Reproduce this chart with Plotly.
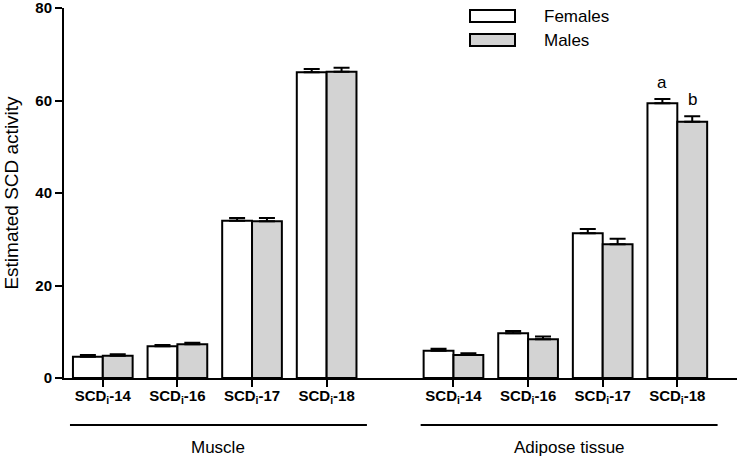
import plotly.graph_objects as go

categories = ["SCD<sub>i</sub>-14", "SCD<sub>i</sub>-16", "SCD<sub>i</sub>-17", "SCD<sub>i</sub>-18"]
tissues = ["Muscle", "Adipose tissue"]

females_muscle = [4.6, 6.85, 34.0, 66.1]
females_muscle_err = [0.35, 0.3, 0.6, 0.7]
males_muscle = [4.8, 7.3, 33.9, 66.2]
males_muscle_err = [0.35, 0.3, 0.7, 0.9]

females_adipose = [5.9, 9.7, 31.3, 59.4]
females_adipose_err = [0.4, 0.45, 0.9, 0.9]
males_adipose = [5.0, 8.4, 28.9, 55.4]
males_adipose_err = [0.35, 0.6, 1.2, 1.2]

letters = ["a", "b"]

pos_muscle = [0, 1, 2, 3]
pos_adipose = [4.7, 5.7, 6.7, 7.7]
positions = pos_muscle + pos_adipose
females = females_muscle + females_adipose
females_err = females_muscle_err + females_adipose_err
males = males_muscle + males_adipose
males_err = males_muscle_err + males_adipose_err

FONT = "Liberation Sans, Arial, sans-serif"

fig = go.Figure()
fig.add_trace(go.Bar(
    x=positions, y=females, name="Females",
    marker=dict(color="white", line=dict(color="black", width=2)),
    error_y=dict(type="data", array=females_err, arrayminus=[0]*8, symmetric=False,
                 color="black", thickness=2, width=8),
    showlegend=False,
))
fig.add_trace(go.Bar(
    x=positions, y=males, name="Males",
    marker=dict(color="#d3d3d3", line=dict(color="black", width=2)),
    error_y=dict(type="data", array=males_err, arrayminus=[0]*8, symmetric=False,
                 color="black", thickness=2, width=8),
    showlegend=False,
))

W, H = 737, 458
L, R, T, B = 64, 0, 8, 80
pw, ph = W - L - R, H - T - B

def px(xp):
    return (xp - L) / pw

def py(yp):
    return (H - B - yp) / ph

shapes = []
annotations = []

# group lines and labels
for grp, name in ((pos_muscle, tissues[0]), (pos_adipose, tissues[1])):
    x0, x1 = grp[0] - 0.44, grp[-1] + 0.54
    shapes.append(dict(type="line", xref="x", yref="paper", x0=x0, x1=x1,
                       y0=py(425), y1=py(425), line=dict(color="black", width=2)))
    annotations.append(dict(xref="x", yref="paper", x=(x0 + x1) / 2, y=py(447),
                            text=name, showarrow=False, font=dict(size=17, family=FONT, color="black"),
                            xanchor="center", yanchor="middle"))

# significance letters on adipose SCD-18
annotations.append(dict(x=pos_adipose[3] - 0.2, y=females_adipose[3] + females_adipose_err[3],
                        text=letters[0], showarrow=False, yanchor="bottom", yshift=5,
                        font=dict(size=17, family=FONT, color="black")))
annotations.append(dict(x=pos_adipose[3] + 0.2, y=males_adipose[3] + males_adipose_err[3],
                        text=letters[1], showarrow=False, yanchor="bottom", yshift=5,
                        font=dict(size=17, family=FONT, color="black")))

# legend
for (y0p, y1p, fill, label) in ((10, 22, "white", "Females"), (34, 46, "#d3d3d3", "Males")):
    shapes.append(dict(type="rect", xref="paper", yref="paper", x0=px(470), x1=px(515),
                       y0=py(y1p), y1=py(y0p), fillcolor=fill, line=dict(color="black", width=2)))
    annotations.append(dict(xref="paper", yref="paper", x=px(542), y=py((y0p + y1p) / 2),
                            text=label, showarrow=False, xanchor="left", yanchor="middle",
                            font=dict(size=17, family=FONT, color="black")))

fig.update_layout(
    width=W, height=H,
    margin=dict(l=L, r=R, t=T, b=B, pad=0),
    paper_bgcolor="white", plot_bgcolor="white",
    barmode="group", bargap=0.2, bargroupgap=0,
    font=dict(family=FONT, color="black"),
    shapes=shapes, annotations=annotations,
    xaxis=dict(range=[-0.52, 8.5], tickvals=positions,
               ticktext=["<b>" + c + "</b>" for c in categories] * 2,
               showline=True, linecolor="black", linewidth=2,
               ticks="outside", ticklen=7, tickwidth=2, tickcolor="black",
               ticklabelstandoff=-4,
               showgrid=False, zeroline=False,
               tickfont=dict(size=15, family=FONT, color="black")),
    yaxis=dict(range=[0, 80], dtick=20, showline=True, linecolor="black", linewidth=2,
               ticks="outside", ticklen=7, tickwidth=2, tickcolor="black",
               ticklabelstandoff=0, ticklabeloverflow="allow",
               showgrid=False, zeroline=False,
               tickfont=dict(size=15, family=FONT, color="black", weight="bold"),
               title=dict(text="Estimated SCD activity", font=dict(size=19, family=FONT, color="black"),
                          standoff=12)),
)

fig.write_html("out.html", config={"displayModeBar": False},
               post_script="document.body.style.margin='0';document.body.style.overflow='hidden';")
